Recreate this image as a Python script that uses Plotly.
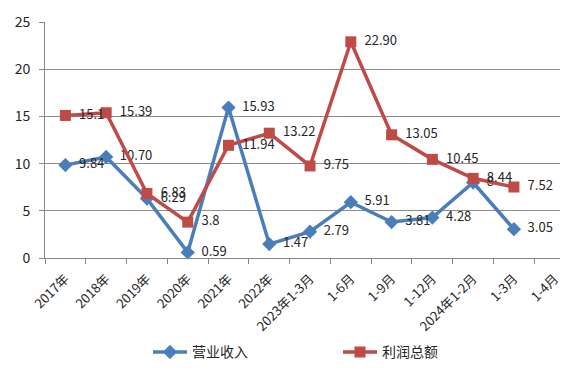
import plotly.graph_objects as go

categories = ["2017年", "2018年", "2019年", "2020年", "2021年", "2022年", "2023年1-3月",
              "1-6月", "1-9月", "1-12月", "2024年1-2月", "1-3月", "1-4月"]
revenue = [9.84, 10.70, 6.29, 0.59, 15.93, 1.47, 2.79, 5.91, 3.81, 4.28, 8, 3.05, None]
revenue_labels = ["9.84", "10.70", "6.29", "0.59", "15.93", "1.47", "2.79", "5.91", "3.81", "4.28", "8", "3.05", ""]
profit = [15.1, 15.39, 6.83, 3.8, 11.94, 13.22, 9.75, 22.90, 13.05, 10.45, 8.44, 7.52, None]
profit_labels = ["15.1", "15.39", "6.83", "3.8", "11.94", "13.22", "9.75", "22.90", "13.05", "10.45", "8.44", "7.52", ""]
y_ticks = [0, 5, 10, 15, 20, 25]

FONT = "Noto Sans CJK SC, Open Sans, sans-serif"

def pad(labels):
    return ["  " + s if s else "" for s in labels]

fig = go.Figure()
fig.add_trace(go.Scatter(
    x=categories, y=revenue, name="营业收入", mode="lines+markers+text",
    line=dict(color="#4A7EBB", width=3.5),
    marker=dict(symbol="diamond", size=11, color="#4A7EBB"),
    text=pad(revenue_labels), textposition="middle right",
    textfont=dict(size=13, color="#262626", family=FONT),
    cliponaxis=False,
))
fig.add_trace(go.Scatter(
    x=categories, y=profit, name="利润总额", mode="lines+markers+text",
    line=dict(color="#BE4B48", width=3.5),
    marker=dict(symbol="square", size=11, color="#BE4B48"),
    text=pad(profit_labels), textposition="middle right",
    textfont=dict(size=13, color="#262626", family=FONT),
    cliponaxis=False,
))

fig.update_layout(
    width=571, height=369,
    margin=dict(l=37, r=19, t=14, b=119, autoexpand=False),
    paper_bgcolor="white", plot_bgcolor="white",
    font=dict(family=FONT, size=13, color="#262626"),
    showlegend=True,
    legend=dict(orientation="h", x=0.2, xanchor="left", y=-0.40, yanchor="middle",
                font=dict(size=14, color="#262626"), entrywidth=141, itemwidth=34),
    xaxis=dict(
        type="category", categoryorder="array", categoryarray=categories,
        range=[-0.5, 12.13], tickson="boundaries", ticks="outside", ticklen=5,
        tickcolor="#868686", showline=True, linecolor="#868686", linewidth=1,
        showgrid=False, tickangle=-45, tickfont=dict(size=13, color="#262626"),
        ticklabelstandoff=7, automargin=False,
    ),
    yaxis=dict(
        range=[0, 25], tickvals=y_ticks, ticks="outside", ticklen=5,
        tickcolor="#868686", showline=True, linecolor="#868686", linewidth=1,
        showgrid=True, gridcolor="#8C8C8C", gridwidth=1, zeroline=False,
        tickfont=dict(size=14, color="#262626"), ticklabelstandoff=6,
        automargin=False,
    ),
)

fig.write_html("out.html")
